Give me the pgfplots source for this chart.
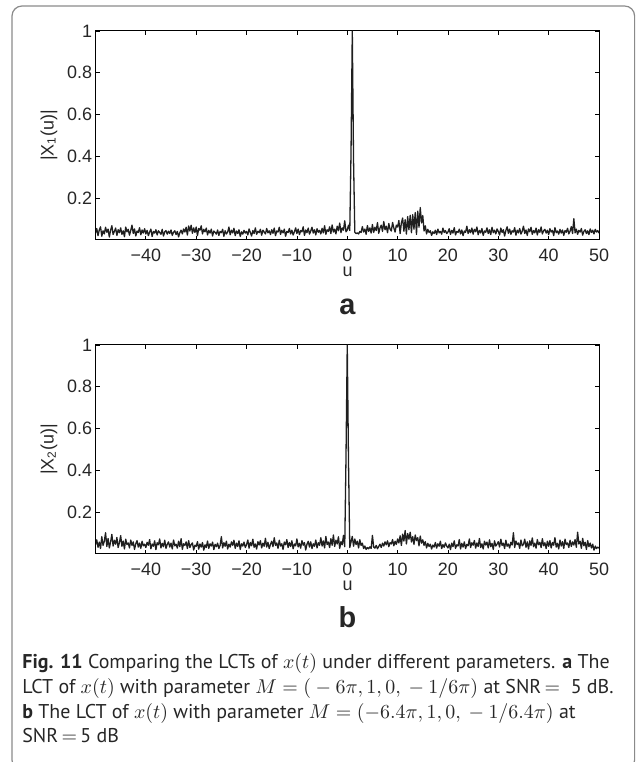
\documentclass[border=0pt]{standalone}
\usepackage{fontspec}
\setmainfont{Liberation Sans}
\newfontfamily\capfont{PT Sans}
\usepackage{pgfplots}
\usepackage{pgfplotstable}
\pgfplotsset{compat=1.18}
\definecolor{txt}{HTML}{262626}
\definecolor{framegray}{HTML}{8A8A8A}

% |X_1(u)|, sampled every 0.25 from u=-50 to 50
\pgfplotstableread[header=false,row sep=\\]{
0.032\\0.055\\0.021\\0.048\\0.063\\0.018\\0.044\\0.029\\0.061\\0.037\\0.052\\0.014\\0.047\\0.068\\0.026\\0.041\\0.057\\0.022\\0.049\\0.035\\
0.058\\0.027\\0.044\\0.016\\0.062\\0.039\\0.051\\0.023\\0.046\\0.071\\0.031\\0.053\\0.019\\0.043\\0.036\\0.059\\0.025\\0.048\\0.033\\0.054\\
0.029\\0.046\\0.021\\0.038\\0.052\\0.017\\0.041\\0.033\\0.049\\0.024\\0.044\\0.036\\0.027\\0.051\\0.019\\0.039\\0.045\\0.028\\0.042\\0.031\\
0.048\\0.022\\0.037\\0.044\\0.026\\0.041\\0.015\\0.035\\0.047\\0.029\\0.053\\0.038\\0.061\\0.024\\0.067\\0.043\\0.071\\0.032\\0.058\\0.036\\
0.062\\0.021\\0.055\\0.047\\0.068\\0.029\\0.051\\0.039\\0.057\\0.024\\0.046\\0.033\\0.052\\0.019\\0.043\\0.037\\0.028\\0.048\\0.022\\0.041\\
0.035\\0.051\\0.018\\0.044\\0.029\\0.038\\0.062\\0.025\\0.047\\0.034\\0.056\\0.021\\0.043\\0.031\\0.049\\0.017\\0.039\\0.028\\0.046\\0.033\\
0.041\\0.024\\0.053\\0.036\\0.019\\0.045\\0.031\\0.058\\0.027\\0.042\\0.035\\0.051\\0.023\\0.047\\0.038\\0.029\\0.055\\0.034\\0.044\\0.026\\
0.049\\0.032\\0.057\\0.021\\0.043\\0.038\\0.061\\0.027\\0.046\\0.034\\0.052\\0.018\\0.041\\0.036\\0.055\\0.029\\0.047\\0.024\\0.039\\0.058\\
0.031\\0.052\\0.026\\0.045\\0.039\\0.063\\0.022\\0.048\\0.035\\0.057\\0.028\\0.043\\0.061\\0.033\\0.049\\0.024\\0.054\\0.037\\0.046\\0.029\\
0.056\\0.034\\0.068\\0.027\\0.049\\0.041\\0.063\\0.031\\0.072\\0.038\\0.052\\0.029\\0.066\\0.044\\0.081\\0.035\\0.058\\0.047\\0.092\\0.039\\
0.048\\0.071\\0.045\\0.42\\1.0\\0.38\\0.037\\0.031\\0.034\\0.029\\0.041\\0.036\\0.064\\0.038\\0.052\\0.027\\0.069\\0.041\\0.058\\0.033\\
0.074\\0.036\\0.061\\0.045\\0.083\\0.032\\0.057\\0.071\\0.041\\0.088\\0.049\\0.066\\0.035\\0.079\\0.052\\0.043\\0.084\\0.058\\0.038\\0.071\\
0.062\\0.093\\0.031\\0.081\\0.105\\0.042\\0.097\\0.028\\0.112\\0.049\\0.118\\0.035\\0.121\\0.052\\0.131\\0.027\\0.138\\0.061\\0.155\\0.082\\
0.117\\0.043\\0.068\\0.029\\0.051\\0.036\\0.044\\0.022\\0.039\\0.031\\0.047\\0.026\\0.052\\0.034\\0.041\\0.028\\0.057\\0.036\\0.045\\0.031\\
0.038\\0.054\\0.027\\0.046\\0.033\\0.059\\0.024\\0.041\\0.036\\0.052\\0.029\\0.048\\0.021\\0.043\\0.037\\0.066\\0.031\\0.049\\0.035\\0.057\\
0.028\\0.051\\0.039\\0.062\\0.025\\0.046\\0.034\\0.055\\0.022\\0.043\\0.037\\0.058\\0.031\\0.049\\0.026\\0.061\\0.035\\0.047\\0.029\\0.053\\
0.041\\0.024\\0.057\\0.036\\0.049\\0.019\\0.045\\0.063\\0.032\\0.052\\0.027\\0.044\\0.038\\0.059\\0.023\\0.047\\0.034\\0.055\\0.028\\0.042\\
0.066\\0.031\\0.048\\0.022\\0.053\\0.039\\0.061\\0.027\\0.045\\0.034\\0.057\\0.024\\0.049\\0.037\\0.062\\0.029\\0.044\\0.051\\0.033\\0.047\\
0.026\\0.054\\0.038\\0.046\\0.021\\0.059\\0.035\\0.043\\0.028\\0.051\\0.033\\0.048\\0.022\\0.045\\0.037\\0.056\\0.029\\0.042\\0.064\\0.031\\
0.102\\0.034\\0.052\\0.027\\0.046\\0.038\\0.055\\0.023\\0.041\\0.049\\0.031\\0.044\\0.026\\0.053\\0.036\\0.047\\0.029\\0.051\\0.038\\0.045\\
0.033\\
}\dataA

% |X_2(u)|, same grid
\pgfplotstableread[header=false,row sep=\\]{
0.045\\0.068\\0.032\\0.057\\0.026\\0.083\\0.041\\0.061\\0.102\\0.036\\0.074\\0.029\\0.058\\0.094\\0.038\\0.066\\0.047\\0.079\\0.031\\0.055\\
0.088\\0.037\\0.062\\0.024\\0.071\\0.045\\0.053\\0.029\\0.067\\0.041\\0.058\\0.022\\0.049\\0.064\\0.033\\0.052\\0.027\\0.061\\0.039\\0.047\\
0.031\\0.056\\0.042\\0.069\\0.025\\0.048\\0.037\\0.063\\0.021\\0.054\\0.044\\0.072\\0.029\\0.051\\0.035\\0.066\\0.027\\0.046\\0.058\\0.033\\
0.052\\0.024\\0.067\\0.039\\0.047\\0.028\\0.061\\0.035\\0.073\\0.022\\0.049\\0.041\\0.058\\0.026\\0.064\\0.031\\0.045\\0.053\\0.019\\0.042\\
0.036\\0.059\\0.023\\0.048\\0.033\\0.055\\0.018\\0.044\\0.031\\0.062\\0.027\\0.049\\0.038\\0.057\\0.021\\0.046\\0.035\\0.052\\0.026\\0.041\\
0.083\\0.029\\0.054\\0.037\\0.061\\0.024\\0.047\\0.033\\0.058\\0.041\\0.066\\0.027\\0.052\\0.036\\0.063\\0.022\\0.049\\0.038\\0.057\\0.031\\
0.044\\0.067\\0.028\\0.055\\0.039\\0.071\\0.032\\0.048\\0.024\\0.059\\0.043\\0.064\\0.029\\0.052\\0.037\\0.075\\0.033\\0.056\\0.026\\0.046\\
0.061\\0.035\\0.078\\0.041\\0.053\\0.027\\0.066\\0.038\\0.049\\0.022\\0.057\\0.044\\0.069\\0.031\\0.055\\0.036\\0.063\\0.025\\0.048\\0.039\\
0.072\\0.034\\0.051\\0.028\\0.064\\0.042\\0.055\\0.019\\0.047\\0.061\\0.033\\0.058\\0.026\\0.049\\0.037\\0.067\\0.029\\0.054\\0.041\\0.078\\
0.038\\0.063\\0.029\\0.084\\0.045\\0.057\\0.031\\0.073\\0.042\\0.091\\0.036\\0.066\\0.048\\0.082\\0.027\\0.059\\0.044\\0.089\\0.035\\0.46\\
1.0\\0.44\\0.031\\0.058\\0.084\\0.037\\0.072\\0.045\\0.061\\0.029\\0.068\\0.041\\0.052\\0.026\\0.038\\0.022\\0.031\\0.025\\0.034\\0.027\\
0.089\\0.033\\0.028\\0.041\\0.025\\0.036\\0.047\\0.031\\0.052\\0.038\\0.058\\0.044\\0.063\\0.035\\0.054\\0.048\\0.069\\0.039\\0.061\\0.046\\
0.072\\0.053\\0.087\\0.041\\0.095\\0.062\\0.112\\0.048\\0.098\\0.071\\0.104\\0.057\\0.083\\0.046\\0.091\\0.064\\0.078\\0.039\\0.086\\0.052\\
0.068\\0.041\\0.059\\0.029\\0.051\\0.036\\0.047\\0.024\\0.043\\0.033\\0.055\\0.028\\0.049\\0.037\\0.061\\0.026\\0.045\\0.032\\0.053\\0.038\\
0.029\\0.047\\0.021\\0.052\\0.035\\0.063\\0.027\\0.044\\0.038\\0.069\\0.024\\0.051\\0.033\\0.058\\0.026\\0.046\\0.039\\0.072\\0.031\\0.054\\
0.042\\0.065\\0.028\\0.053\\0.036\\0.074\\0.031\\0.049\\0.024\\0.061\\0.043\\0.057\\0.029\\0.068\\0.035\\0.051\\0.022\\0.063\\0.038\\0.047\\
0.059\\0.033\\0.071\\0.041\\0.052\\0.026\\0.066\\0.037\\0.048\\0.029\\0.056\\0.043\\0.102\\0.031\\0.062\\0.045\\0.053\\0.027\\0.067\\0.039\\
0.046\\0.071\\0.032\\0.058\\0.024\\0.063\\0.041\\0.077\\0.035\\0.052\\0.028\\0.069\\0.044\\0.056\\0.031\\0.073\\0.039\\0.054\\0.026\\0.061\\
0.037\\0.064\\0.029\\0.055\\0.042\\0.078\\0.033\\0.051\\0.024\\0.067\\0.038\\0.059\\0.027\\0.071\\0.045\\0.053\\0.031\\0.066\\0.036\\0.058\\
0.043\\0.069\\0.032\\0.104\\0.048\\0.061\\0.027\\0.075\\0.039\\0.056\\0.022\\0.064\\0.035\\0.052\\0.029\\0.047\\0.018\\0.038\\0.026\\0.033\\
0.028\\
}\dataB

\pgfplotsset{
  lct/.style={
    scale only axis, width=251.5bp, height=104.5bp,
    anchor=south west,
    xmin=-49.9, xmax=50, ymin=0, ymax=1,
    xtick={-40,-30,...,50},
    xticklabels={−40,−30,−20,−10,0,10,20,30,40,50},
    ytick={0.2,0.4,0.6,0.8,1},
    yticklabels={0.2,0.4,0.6,0.8,1},
    tick align=inside, major tick length=1.8bp,
    axis line style={line width=0.5bp, black},
    every tick/.append style={line width=0.4bp, black},
    tick label style={font=\fontsize{9}{10}\selectfont, text=txt},
    xticklabel style={anchor=base, yshift=-10.75bp, inner sep=0pt},
    yticklabel style={anchor=east, inner sep=0pt, xshift=-1.75bp},
    xlabel={u},
    xlabel style={font=\fontsize{9}{10}\selectfont, text=txt, inner sep=0pt,
      at={(axis description cs:0.5,0)}, anchor=base, yshift=-18.5bp},
    ylabel style={font=\fontsize{9}{10}\selectfont, text=txt, inner sep=0pt,
      at={(axis description cs:-0.0934,0.5)}, anchor=center},
    clip=true,
  }
}

\begin{document}
\begin{tikzpicture}
\useasboundingbox (0,0) rectangle (318bp,381bp);
\draw[framegray, line width=0.6bp, rounded corners=5bp] (6bp,-4bp) rectangle (317.3bp,378bp);

\begin{axis}[lct, at={(48bp,261bp)}, ylabel={|X\textsubscript{1}(u)|}]
\addplot[black!88, line width=0.65bp, line join=round, mark=none]
  table[x expr=\coordindex*0.25-50, y index=0] {\dataA};
\end{axis}

\begin{axis}[lct, at={(48bp,104bp)}, ylabel={|X\textsubscript{2}(u)|}]
\addplot[black!88, line width=0.65bp, line join=round, mark=none]
  table[x expr=\coordindex*0.25-50, y index=0] {\dataB};
\end{axis}

\node[font=\fontsize{14.5}{15}\selectfont\bfseries, text=txt, anchor=base, inner sep=0pt] at (173.75bp,223.5bp) {a};
\node[font=\fontsize{14.5}{15}\selectfont\bfseries, text=txt, anchor=base, inner sep=0pt] at (173.75bp,67bp) {b};

\begin{scope}[every node/.style={anchor=base west, inner sep=0pt, text=txt, font=\capfont\fontsize{10}{11}\selectfont}]
\node at (11bp,46.5bp) {\textbf{Fig. 11} Comparing the LCTs of $x(t)$ under different parameters. \textbf{a} The};
\node at (11bp,34.25bp) {LCT of $x(t)$ with parameter $M=({}-6\pi,1,0,{}-1/6\pi)$ at SNR\,$=$\ \ 5 dB.};
\node at (11bp,22bp) {\textbf{b} The LCT of $x(t)$ with parameter $M=(-6.4\pi,1,0,{}-1/6.4\pi)$ at};
\node at (11bp,10bp) {SNR\,$=$\,5 dB};
\end{scope}
\end{tikzpicture}
\end{document}
